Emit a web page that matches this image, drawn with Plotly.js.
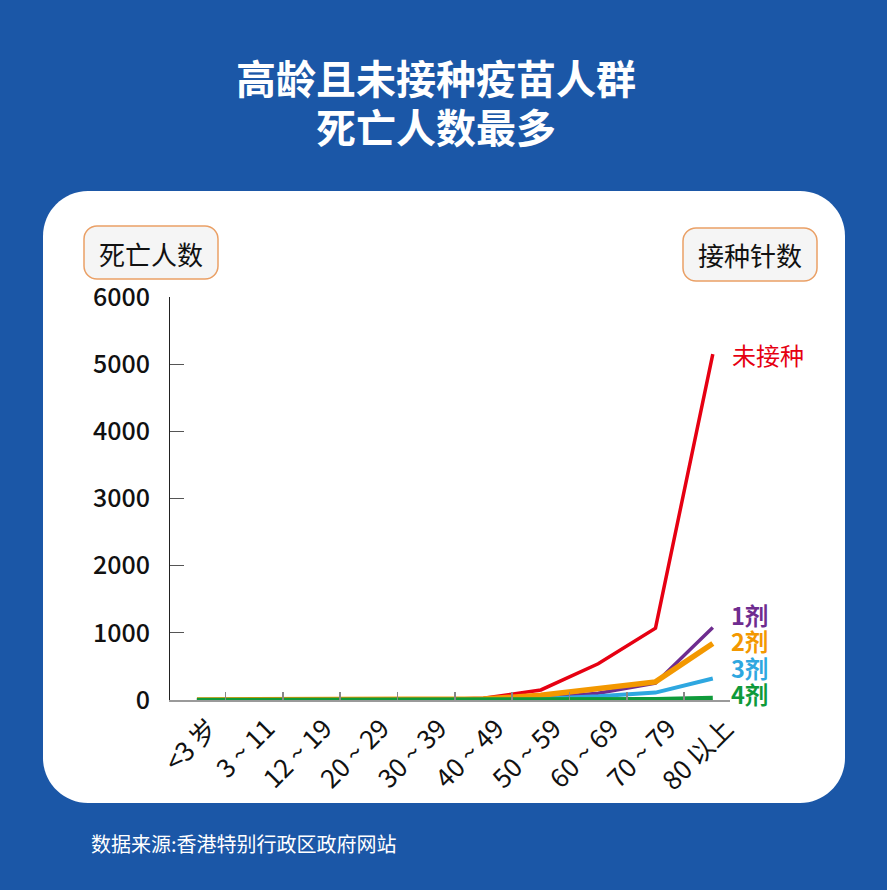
<!DOCTYPE html>
<html>
<head>
<meta charset="utf-8">
<script src="https://cdn.plot.ly/plotly-3.0.1.min.js"></script>
<style>
html,body{margin:0;padding:0;background:#1b57a7;}
#chart{width:887px;height:890px;}
</style>
</head>
<body>
<div id="chart"></div>
<script>
// ---- data ----
var ageGroups = ['<3 岁','3 ~ 11','12 ~ 19','20 ~ 29','30 ~ 39','40 ~ 49','50 ~ 59','60 ~ 69','70 ~ 79','80 以上'];
var unvaccinated = [0, 0, 1, 2, 5, 25, 150, 540, 1070, 5150];
var dose1 = [0, 0, 0, 0, 1, 5, 30, 100, 250, 1080];
var dose2 = [0, 0, 0, 0, 2, 15, 70, 170, 270, 840];
var dose3 = [0, 0, 0, 0, 0, 3, 20, 55, 110, 320];
var dose4 = [0, 0, 0, 0, 0, 0, 2, 5, 10, 30];
var seriesNames = ['未接种','1剂','2剂','3剂','4剂'];
var yTicks = [0,1000,2000,3000,4000,5000,6000];

// ---- layout helpers (pixel -> paper) ----
var L = 170, T = 297, W = 560, H = 403;
function X(px){ return (px - L) / W; }
function Y(py){ return (T + H - py) / H; }
function rr(x0,y0,x1,y1,r){
  var k = 0.552*r;
  function p(a,b){ return X(a).toFixed(5)+','+Y(b).toFixed(5); }
  return 'M'+p(x0+r,y0)+' L'+p(x1-r,y0)+
    ' C'+p(x1-r+k,y0)+' '+p(x1,y0+r-k)+' '+p(x1,y0+r)+
    ' L'+p(x1,y1-r)+
    ' C'+p(x1,y1-r+k)+' '+p(x1-r+k,y1)+' '+p(x1-r,y1)+
    ' L'+p(x0+r,y1)+
    ' C'+p(x0+r-k,y1)+' '+p(x0,y1-r+k)+' '+p(x0,y1-r)+
    ' L'+p(x0,y0+r)+
    ' C'+p(x0,y0+r-k)+' '+p(x0+r-k,y0)+' '+p(x0+r,y0)+' Z';
}

var FONT = '"Noto Sans CJK SC", "Noto Sans", sans-serif';
var colors = ['#e60012','#6e2c8f','#f39800','#2ea7e0','#0f9a3a'];

function tr(y, name, color, width){
  return {x: ageGroups, y: y, name: name, type:'scatter', mode:'lines',
          line:{color:color, width:width}, hoverinfo:'skip'};
}
var data = [
  tr(unvaccinated, seriesNames[0], colors[0], 3.5),
  tr(dose1, seriesNames[1], colors[1], 3.5),
  tr(dose3, seriesNames[3], colors[3], 4),
  tr(dose2, seriesNames[2], colors[2], 5.5),
  tr(dose4, seriesNames[4], colors[4], 4.5)
];

var annotations = [];
// title
annotations.push({xref:'paper',yref:'paper',x:X(436),y:Y(77),text:'<b>高龄且未接种疫苗人群</b>',showarrow:false,
  font:{family:FONT,size:40,color:'#ffffff'},xanchor:'center',yanchor:'middle'});
annotations.push({xref:'paper',yref:'paper',x:X(436),y:Y(125.5),text:'<b>死亡人数最多</b>',showarrow:false,
  font:{family:FONT,size:40,color:'#ffffff'},xanchor:'center',yanchor:'middle'});
// box labels
annotations.push({xref:'paper',yref:'paper',x:X(151),y:Y(253),text:'死亡人数',showarrow:false,
  font:{family:FONT,size:26,color:'#111111'},xanchor:'center',yanchor:'middle'});
annotations.push({xref:'paper',yref:'paper',x:X(750),y:Y(254),text:'接种针数',showarrow:false,
  font:{family:FONT,size:26,color:'#111111'},xanchor:'center',yanchor:'middle'});
// series labels
annotations.push({xref:'paper',yref:'paper',x:X(730),y:Y(354),text:seriesNames[0],showarrow:false,
  font:{family:FONT,size:24,color:colors[0]},xanchor:'left',yanchor:'middle'});
var doseLabelY = [614.5, 641, 667.5, 694];
[1,2,3,4].forEach(function(i){
  annotations.push({xref:'paper',yref:'paper',x:X(730),y:Y(doseLabelY[i-1]),text:'<b>'+seriesNames[i]+'</b>',showarrow:false,
    font:{family:FONT,size:23.5,color:colors[i]},xanchor:'left',yanchor:'middle',borderpad:0});
});
// footer
annotations.push({xref:'paper',yref:'paper',x:X(89),y:Y(843),text:'数据来源:香港特别行政区政府网站',showarrow:false,
  font:{family:FONT,size:20,color:'#ffffff'},xanchor:'left',yanchor:'middle'});

var shapes = [
  {type:'path', xref:'paper', yref:'paper', path: rr(43,191,845,803,45), fillcolor:'#ffffff', line:{width:0}, layer:'below'},
  {type:'path', xref:'paper', yref:'paper', path: rr(84,226,218,279,13), fillcolor:'#f5f5f5', line:{width:1.5,color:'#eaa066'}, layer:'below'},
  {type:'path', xref:'paper', yref:'paper', path: rr(683,228,817,281,13), fillcolor:'#f5f5f5', line:{width:1.5,color:'#eaa066'}, layer:'below'}
];

var layout = {
  width: 887, height: 890, autosize:false,
  margin:{l:L, r:887-L-W, t:T, b:890-T-H, pad:0},
  paper_bgcolor:'#1b57a7', plot_bgcolor:'rgba(0,0,0,0)',
  showlegend:false,
  font:{family:FONT},
  xaxis:{type:'category', range:[-0.47, 9.3], tickson:'boundaries', ticks:'inside', ticklen:8, tickwidth:1.5,
    tickcolor:'#888', showline:true, linecolor:'#9a9a9a', linewidth:2, showgrid:false, zeroline:false,
    tickangle:-45, tickfont:{family:FONT,size:26,color:'#111'}, ticklabelstandoff:1, ticklabelshift:13, fixedrange:true},
  yaxis:{range:[0,6000], tickvals:yTicks, ticktext:yTicks.map(String), ticks:'inside', ticklen:14, tickwidth:1,
    tickcolor:'#555', showline:true, linecolor:'#222', linewidth:1, showgrid:false, zeroline:false,
    tickfont:{family:FONT,size:25,color:'#111',weight:500}, ticklabelstandoff:14, fixedrange:true},
  shapes: shapes,
  annotations: annotations
};

Plotly.newPlot('chart', data, layout, {displayModeBar:false, staticPlot:true});
</script>
</body>
</html>
